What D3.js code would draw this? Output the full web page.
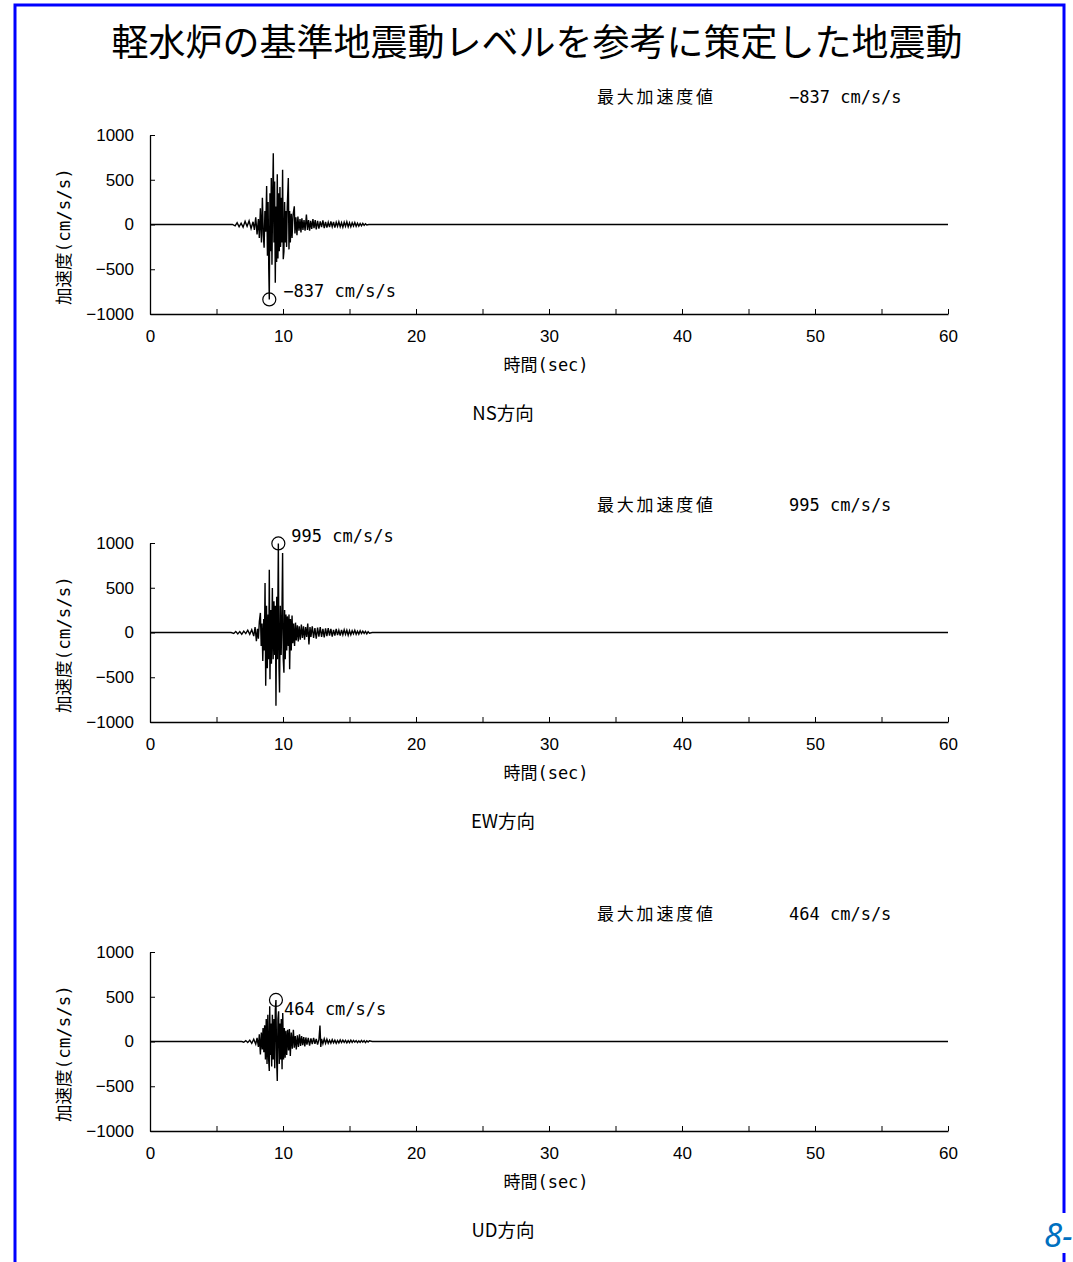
<!DOCTYPE html>
<html><head><meta charset="utf-8">
<script src="https://cdn.jsdelivr.net/npm/d3@7"></script>
<style>
html,body{margin:0;padding:0;background:#fff;}
svg{display:block;}
</style></head>
<body>
<svg id="c" width="1073" height="1262"></svg>
<script>
const title = "軽水炉の基準地震動レベルを参考に策定した地震動";
const panelNames = ["NS方向", "EW方向", "UD方向"];
const peakValues = [-837, 995, 464];
const peakTimes = [8.97, 9.65, 9.47];
const xTicks = [0, 10, 20, 30, 40, 50, 60];
const xMinorTicks = [5, 15, 25, 35, 45, 55];
const yTicks = [1000, 500, 0, -500, -1000];
const xLabel = "時間(sec)";
const yLabel = "加速度(cm/s/s)";
const peakHeader = "最大加速度値";
const unit = "cm/s/s";

const nsWave = [[0,0],[6.2,0],[6.4,-15],[6.55,20],[6.7,-25],[6.85,15],[7.0,-30],[7.15,35],[7.3,-20],[7.45,40],[7.6,-45],[7.75,30],[7.85,-60],[7.95,80],[8.05,-110],[8.15,60],[8.22,-150],[8.3,180],[8.38,-200],[8.45,300],[8.52,-120],[8.58,-260],[8.64,150],[8.7,-80],[8.77,430],[8.83,-350],[8.88,250],[8.93,-500],[8.97,-837],[9.02,350],[9.07,-300],[9.12,520],[9.17,-450],[9.22,300],[9.27,796],[9.32,-200],[9.37,480],[9.42,-650],[9.47,200],[9.52,-420],[9.57,560],[9.62,-380],[9.67,350],[9.72,-300],[9.77,420],[9.82,-250],[9.87,300],[9.92,-200],[9.97,611],[10.02,-389],[10.07,-300],[10.12,250],[10.17,-200],[10.22,150],[10.27,-250],[10.32,200],[10.4,519],[10.45,-278],[10.5,150],[10.55,-200],[10.62,120],[10.68,-150],[10.75,100],[10.85,204],[10.9,-100],[10.97,80],[11.05,-120],[11.12,90],[11.2,-70],[11.28,60],[11.35,-90],[11.42,70],[11.5,-60],[11.58,50],[11.66,-70],[11.76,111],[11.84,-60],[11.92,50],[12.0,-70],[12.08,40],[12.16,-50],[12.25,60],[12.33,-40],[12.42,50],[12.5,-55],[12.6,40],[12.7,-45],[12.8,35],[12.9,-30],[13.0,45],[13.1,-40],[13.2,30],[13.3,-35],[13.4,25],[13.5,-30],[13.6,35],[13.7,-25],[13.8,30],[13.9,-35],[14.0,25],[14.1,-20],[14.2,30],[14.3,-25],[14.4,20],[14.5,-30],[14.6,25],[14.7,-20],[14.8,30],[14.9,-25],[15.0,20],[15.1,-25],[15.2,20],[15.3,-18],[15.4,22],[15.5,-20],[15.6,15],[15.7,-18],[15.8,12],[15.9,-15],[16.0,12],[16.1,-10],[16.2,8],[16.3,-6],[16.45,0],[60,0]];

const ewWave = [[0,0],[6.1,0],[6.3,-10],[6.45,12],[6.6,-15],[6.75,10],[6.9,-20],[7.05,15],[7.2,-12],[7.35,25],[7.5,-20],[7.65,30],[7.8,-40],[7.9,60],[8.0,-96],[8.08,40],[8.15,-70],[8.22,120],[8.3,219],[8.36,-150],[8.42,100],[8.48,-318],[8.55,150],[8.6,-200],[8.65,552],[8.7,-596],[8.76,300],[8.82,-400],[8.88,200],[8.93,-300],[8.97,700],[9.02,-522],[9.08,250],[9.13,-350],[9.2,496],[9.26,-300],[9.32,350],[9.38,-250],[9.43,300],[9.47,-818],[9.53,400],[9.58,-300],[9.65,995],[9.7,-400],[9.74,-670],[9.8,300],[9.86,-250],[9.92,200],[9.97,889],[10.02,-300],[10.07,-450],[10.12,250],[10.17,-300],[10.22,200],[10.28,-200],[10.33,180],[10.4,-150],[10.45,200],[10.5,-411],[10.56,150],[10.62,-200],[10.68,190],[10.74,-120],[10.8,100],[10.87,-150],[10.94,110],[11.0,-90],[11.08,80],[11.15,-100],[11.22,70],[11.3,-80],[11.38,90],[11.46,-60],[11.54,70],[11.62,-80],[11.7,60],[11.78,-50],[11.86,100],[11.95,-133],[12.03,60],[12.1,-50],[12.2,70],[12.3,-60],[12.4,50],[12.5,-70],[12.6,55],[12.7,-45],[12.8,60],[12.9,-50],[13.0,40],[13.1,-55],[13.2,45],[13.3,-40],[13.4,50],[13.5,-35],[13.6,40],[13.7,-45],[13.8,30],[13.9,-35],[14.0,40],[14.1,-30],[14.2,25],[14.3,-35],[14.4,30],[14.5,-25],[14.6,30],[14.7,-20],[14.8,25],[14.9,-30],[15.0,20],[15.1,-25],[15.2,20],[15.3,-15],[15.4,25],[15.5,-20],[15.6,15],[15.7,-18],[15.8,20],[15.9,-12],[16.0,15],[16.1,-10],[16.2,12],[16.3,-15],[16.4,10],[16.5,-8],[16.7,0],[60,0]];

const udWave = [[0,0],[6.9,0],[7.05,-8],[7.2,10],[7.35,-12],[7.5,15],[7.65,-20],[7.8,25],[7.95,-30],[8.05,40],[8.15,-60],[8.22,80],[8.3,-144],[8.37,100],[8.44,-90],[8.5,150],[8.56,-120],[8.62,180],[8.68,-200],[8.74,250],[8.8,-250],[8.86,300],[8.92,-200],[8.97,-330],[9.0,393],[9.05,-150],[9.1,200],[9.15,-280],[9.2,300],[9.26,-200],[9.32,250],[9.38,-300],[9.42,350],[9.47,464],[9.52,-200],[9.57,-441],[9.62,250],[9.67,337],[9.72,-250],[9.77,200],[9.82,-200],[9.87,250],[9.93,-311],[9.98,318],[10.04,-200],[10.1,150],[10.16,-180],[10.22,120],[10.28,-150],[10.35,130],[10.42,-100],[10.48,140],[10.55,-163],[10.62,100],[10.7,-80],[10.78,130],[10.85,-70],[10.92,60],[11.0,-90],[11.08,70],[11.16,-60],[11.24,80],[11.32,-50],[11.4,60],[11.48,-40],[11.56,50],[11.64,-55],[11.72,45],[11.8,-35],[11.9,40],[12.0,-45],[12.1,35],[12.2,-30],[12.3,40],[12.4,-25],[12.5,30],[12.6,-35],[12.7,20],[12.78,178],[12.84,-60],[12.9,30],[13.0,-25],[13.1,30],[13.2,-20],[13.3,25],[13.4,-20],[13.5,15],[13.6,-18],[13.7,20],[13.8,-15],[13.9,15],[14.0,-20],[14.1,12],[14.2,-15],[14.3,18],[14.4,-12],[14.5,15],[14.6,-10],[14.7,12],[14.8,-15],[14.9,10],[15.0,-12],[15.1,15],[15.2,-10],[15.3,12],[15.4,-8],[15.5,10],[15.6,-12],[15.7,8],[15.8,-10],[15.9,12],[16.0,-8],[16.1,10],[16.2,-12],[16.3,8],[16.4,-6],[16.5,8],[16.7,0],[60,0]];

const waves = [nsWave, ewWave, udWave];

const svg = d3.select("#c");
const FONT = "'Noto Sans CJK JP','Noto Sans',sans-serif";
const MONO = "'DejaVu Sans Mono','Noto Sans CJK JP',monospace";
const NUM = "'Liberation Sans',Arial,sans-serif";

// frame
svg.append("path").attr("d","M15,1262 V5 H1064 V1213").attr("fill","none").attr("stroke","#0000ff").attr("stroke-width",3);
svg.append("line").attr("x1",1064).attr("x2",1064).attr("y1",1253).attr("y2",1262).attr("stroke","#0000ff").attr("stroke-width",3);
svg.append("text").attr("x",1044).attr("y",1247).text("8-")
  .attr("font-family","'Noto Sans','DejaVu Sans',sans-serif").attr("font-style","italic").attr("font-size",33).attr("fill","#0070c0");

svg.append("text").attr("x",537).attr("y",56).attr("text-anchor","middle")
  .attr("font-family",FONT).attr("font-size",37).attr("fill","#000").text(title);

const x0 = 150, x1 = 948;
const panelTops = [135, 543, 952];
const ph = 179;
const fmt = v => (v < 0 ? "−" + Math.abs(v) : "" + v);

panelTops.forEach((top, i) => {
  const x = d3.scaleLinear().domain([0,60]).range([x0,x1]);
  const y = d3.scaleLinear().domain([-1000,1000]).range([top+ph, top]);
  const g = svg.append("g");

  // header
  const hy = top - 32;
  g.append("text").attr("x",597).attr("y",hy).attr("font-family",FONT).attr("font-size",17).attr("letter-spacing",2.8).text(peakHeader);
  g.append("text").attr("x",789).attr("y",hy).attr("font-family",MONO).attr("font-size",17)
    .text(fmt(peakValues[i]) + " " + unit);

  // axes
  const xa = d3.axisBottom(x).tickValues(xTicks.concat(xMinorTicks)).tickSize(-5).tickSizeOuter(0).tickFormat(d => xTicks.includes(d) ? d : "");
  const gx = g.append("g").attr("transform",`translate(0,${top+ph})`).call(xa);
  gx.selectAll("text").attr("font-family",NUM).attr("font-size",17).attr("fill","#000").attr("y",10).attr("dy","1.05em");
  gx.select(".domain").attr("stroke","#000").attr("stroke-width",1.3);
  gx.selectAll(".tick line").attr("stroke","#000");

  const ya = d3.axisLeft(y).tickValues(yTicks).tickSize(-5).tickSizeOuter(0).tickFormat(fmt);
  const gy = g.append("g").attr("transform",`translate(${x0},0)`).call(ya);
  gy.selectAll("text").attr("font-family",NUM).attr("font-size",17).attr("fill","#000").attr("x",-16);
  gy.select(".domain").attr("stroke","#000").attr("stroke-width",1.3);
  gy.selectAll(".tick line").attr("stroke","#000");

  // wave
  const line = d3.line().x(d => x(d[0])).y(d => y(d[1]));
  g.append("path").datum(waves[i]).attr("d", line).attr("fill","none").attr("stroke","#000").attr("stroke-width",1.4).attr("stroke-linejoin","miter");

  // peak marker
  const cx = x(peakTimes[i]), cy = y(peakValues[i]);
  g.append("circle").attr("cx",cx).attr("cy",cy).attr("r",6.5).attr("fill","none").attr("stroke","#000").attr("stroke-width",1.2);
  const lx = i === 0 ? cx + 14 : (i === 1 ? cx + 13 : cx + 8);
  const ly = i === 0 ? cy - 2 : (i === 1 ? cy - 1 : cy + 15);
  g.append("text").attr("x",lx).attr("y",ly).attr("font-family",MONO).attr("font-size",17).text(fmt(peakValues[i]) + " " + unit);

  // labels
  g.append("text").attr("x",546).attr("y",top+ph+57).attr("text-anchor","middle").attr("font-family",MONO).attr("font-size",17).text(xLabel);
  g.append("text").attr("x",503).attr("y",top+ph+106).attr("text-anchor","middle").attr("font-family",FONT).attr("font-size",18.5).text(panelNames[i]);
  g.append("text").attr("transform",`translate(70,${top+ph/2+12}) rotate(-90)`).attr("text-anchor","middle")
    .attr("font-family",MONO).attr("font-size",17.5).text(yLabel);
});
</script>
</body></html>
